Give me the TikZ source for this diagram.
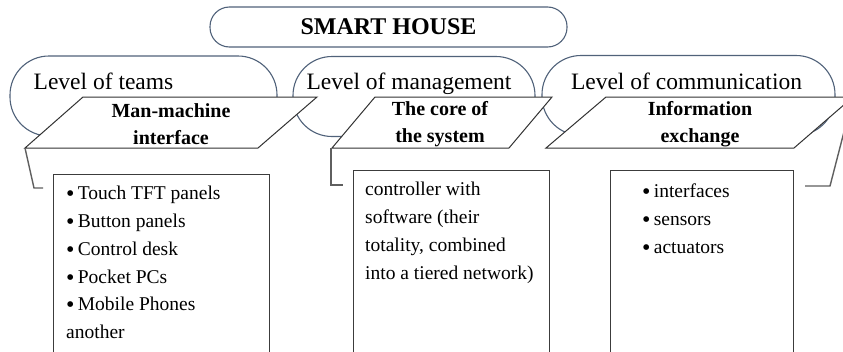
\documentclass[tikz,border=0pt]{standalone}
\usepackage{fontspec}
\setmainfont{Liberation Serif}
\definecolor{slate}{RGB}{80,98,122}
\definecolor{paraline}{RGB}{50,50,50}
\definecolor{boxline}{RGB}{60,60,60}
\definecolor{connline}{RGB}{95,95,95}
\newcommand{\mybul}{\raisebox{-2pt}{\fontsize{24}{0}\selectfont •}\,}
\begin{document}
\begin{tikzpicture}[x=1pt,y=-1pt,
  lvl/.style={draw=slate, line width=1.1pt, fill=white, rounded corners=39pt, minimum height=80pt, inner sep=0pt},
  para/.style={draw=paraline, line width=1pt, fill=white},
  ptext/.style={font=\fontsize{20}{27}\selectfont\bfseries, align=center, inner sep=0pt},
  ltext/.style={font=\fontsize{23.5}{28}\selectfont, anchor=base, inner sep=0pt},
  boxst/.style={draw=boxline, line width=1pt, fill=white, anchor=north west, inner sep=0pt, minimum height=200pt},
  btext/.style={font=\fontsize{19.5}{27.8}\selectfont, align=left, anchor=north west, inner sep=0pt},
  conn/.style={draw=connline, line width=1.4pt}
]
\useasboundingbox (0,0) rectangle (843,351);
\clip (0,0) rectangle (843,351);
\fill[white] (0,0) rectangle (843,351);

% title
\node[draw=slate, line width=1.1pt, rounded corners=19.5pt, minimum width=357pt, minimum height=40pt, inner sep=0pt,
      font=\fontsize{24}{28}\selectfont\bfseries] (smart) at (388.5,27) {SMART HOUSE};

% level shapes
\node[lvl, minimum width=267pt] (lvl1) at (143.5,96) {};
\node[lvl, minimum width=242pt] (lvl2) at (414,96.5) {};
\node[lvl, minimum width=293pt] (lvl3) at (688.5,95.5) {};
\node[ltext] (l1t) at (103.5,89) {Level of teams};
\node[ltext] (l2t) at (409,89) {Level of management};
\node[ltext] (l3t) at (686.5,89) {Level of communication};

% parallelograms
\path[para] (25,148) coordinate (p1bl) -- (258,148) -- (317,97) -- (83,97) -- cycle;
\path[para] (332,148) coordinate (p2bl) -- (509,148) -- (552,97) -- (375,97) -- cycle;
\path[para] (546,148) -- (794,148) -- (853,97) coordinate (p3tr) -- (606,97) -- cycle;
\node[ptext] (p1t) at (171,124) {Man-machine\\interface};
\node[ptext] (p2t) at (440,124) {The core of\\the system};
\node[ptext] (p3t) at (700,124) {Information\\exchange};

% boxes
\node[boxst, minimum width=216pt] (b1) at (53,174) {};
\node[boxst, minimum width=196pt] (b2) at (353,170) {};
\node[boxst, minimum width=183pt] (b3) at (610,170) {};
\node[btext] (b1t) at (66,186) {\mybul Touch TFT panels\\\mybul Button panels\\\mybul Control desk\\\mybul Pocket PCs\\\mybul Mobile Phones\\another};
\node[btext] (b2t) at (365,182) {controller with\\software (their\\totality, combined\\into a tiered network)};
\node[btext] (b3t) at (642,184) {\mybul interfaces\\\mybul sensors\\\mybul actuators};

% connectors
\coordinate (c1a) at (34,188);
\coordinate (c1b) at (43,188);
\coordinate (c2a) at (331,185);
\coordinate (c2b) at (343,185);
\coordinate (c3a) at (830,186);
\coordinate (c3b) at (805,186);
\draw[conn] (p1bl) -- (c1a) -- (c1b);
\draw[conn] (p2bl) ++(-1,0) -- (c2a) -- (c2b);
\draw[conn] (p3tr) -- (c3a) -- (c3b);
\end{tikzpicture}
\end{document}
